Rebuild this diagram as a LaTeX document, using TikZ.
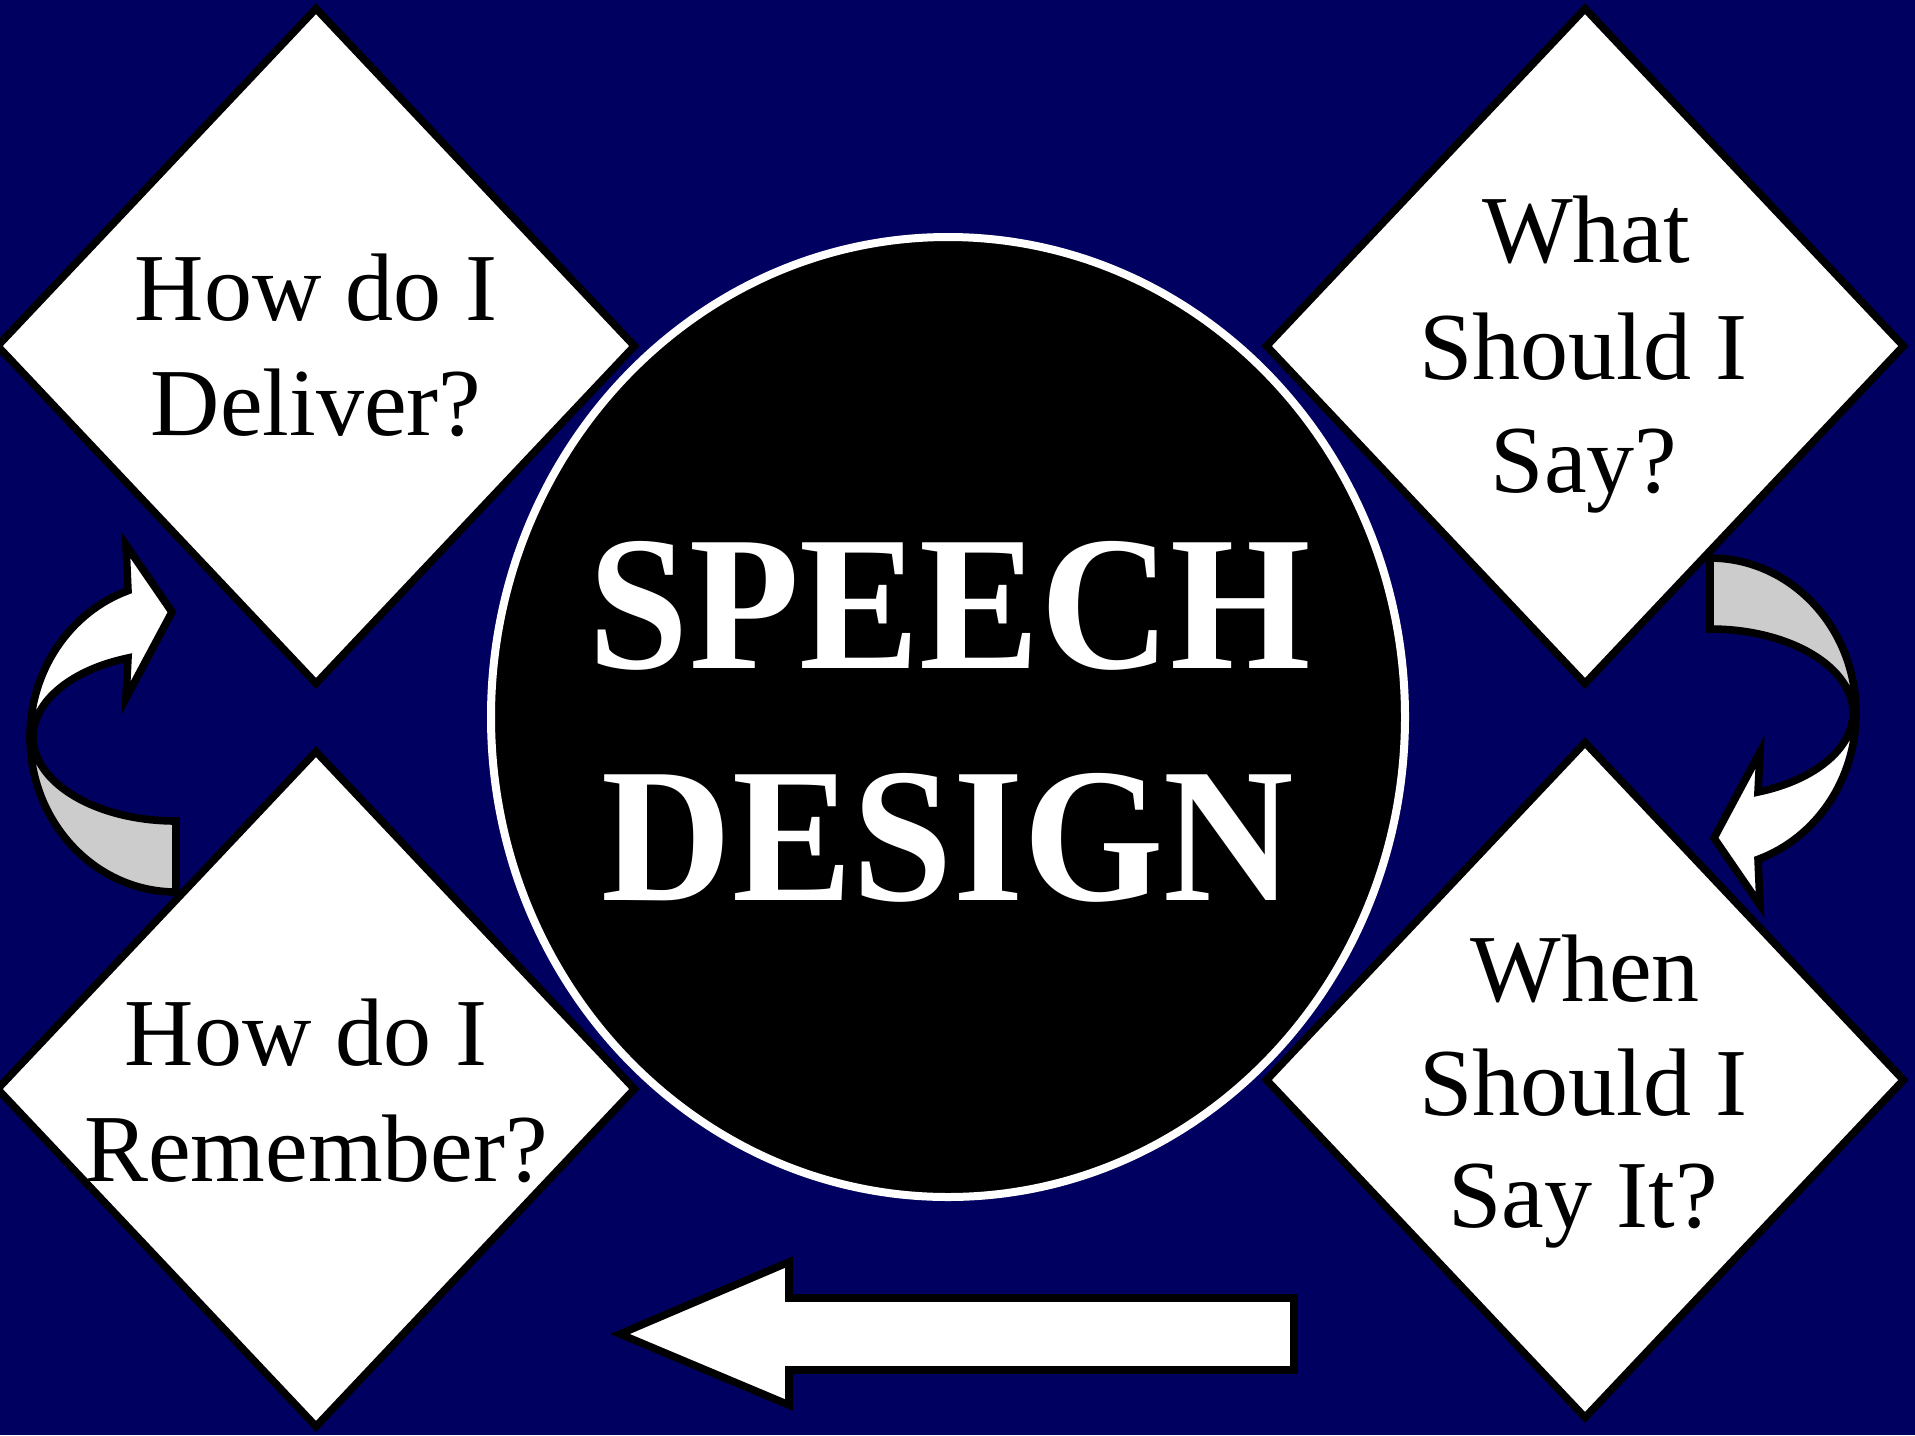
\documentclass[tikz,border=0pt]{standalone}
\usepackage{fontspec}
\setmainfont{Liberation Serif}
\newfontfamily\titlefont{Liberation Serif}[FakeStretch=0.94]
\usetikzlibrary{shapes.geometric}
\definecolor{navy}{RGB}{0,0,96}
\definecolor{backgray}{RGB}{204,204,204}
\begin{document}
\begin{tikzpicture}[x=0.5pt, y=-0.5pt,
  qbox/.style={diamond, draw=black, fill=white, line width=3.8pt, inner sep=0pt,
               minimum width=320pt, minimum height=339pt},
  qtext/.style={anchor=base, inner sep=0pt, text=black,
                font=\fontsize{48}{48}\selectfont},
  titletext/.style={anchor=base, inner sep=0pt, text=white,
                    font=\titlefont\bfseries\fontsize{96}{96}\selectfont},
  arrowline/.style={draw=black, line width=3.8pt, line join=miter},
  curvedarrow/.pic={
    \path[arrowline, fill=backgray] (-146,0)
      arc[start angle=180, end angle=90, x radius=146, y radius=155]
      -- (0,84)
      arc[start angle=90, end angle=180, x radius=143, y radius=84] -- cycle;
    \path[arrowline, fill=white] (-146,0)
      arc[start angle=180, end angle=250.8, x radius=146, y radius=155]
      -- (-50,-192) -- (-4,-125) -- (-50,-39) -- (-48,-79)
      arc[start angle=250.4, end angle=180, x radius=143, y radius=84] -- cycle;
  }]
\fill[navy] (0,0) rectangle (1915,1435);
\useasboundingbox (0,0) rectangle (1915,1435);

% curved arrows
\pic at (176,737) {curvedarrow};
\pic[rotate=180] at (1710,713) {curvedarrow};

% bottom straight arrow
\path[arrowline, fill=white] (620,1334) -- (789,1262) -- (789,1298) -- (1294,1298)
  -- (1294,1370) -- (789,1370) -- (789,1405) -- cycle;

% centre
\node[ellipse, draw=white, fill=black, line width=4pt, inner sep=0pt,
      minimum width=457pt, minimum height=480pt] (hub) at (948,717) {};
\node[titletext] (t1) at (950,668) {SPEECH};
\node[titletext] (t2) at (948,900) {DESIGN};

% diamonds
\node[qbox] (dTL) at (316,346) {};
\node[qbox] (dTR) at (1585,346) {};
\node[qbox] (dBL) at (316,1089) {};
\node[qbox] (dBR) at (1585,1080) {};

% diamond texts
\node[qtext] (tl1) at (316,320) {How do I};
\node[qtext] (tl2) at (316,435) {Deliver?};
\node[qtext] (tr1) at (1586,262) {What};
\node[qtext] (tr2) at (1583,379) {Should I};
\node[qtext] (tr3) at (1584,492) {Say?};
\node[qtext] (br1) at (1585,1001) {When};
\node[qtext] (br2) at (1583,1115) {Should I};
\node[qtext] (br3) at (1583,1227) {Say It?};
\node[qtext] (bl1) at (306,1065) {How do I};
\node[qtext] (bl2) at (316,1181) {Remember?};
\end{tikzpicture}
\end{document}
